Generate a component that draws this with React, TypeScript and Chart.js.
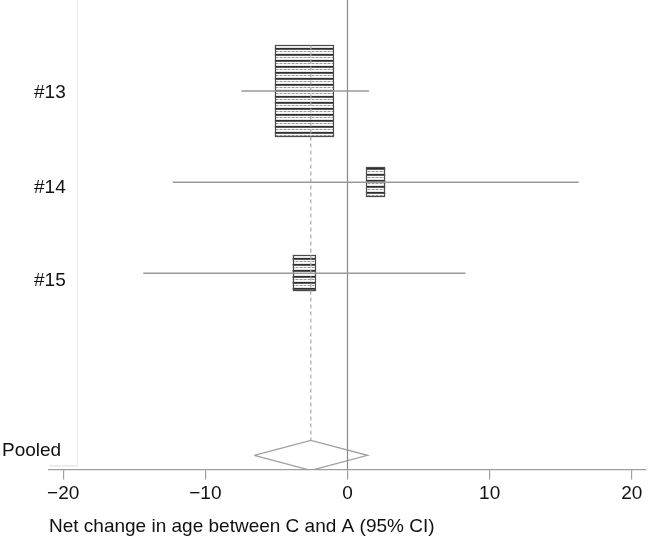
import React, { useEffect, useRef } from 'react';
import { Chart, registerables } from 'chart.js';

Chart.register(...registerables);

// ---- data ----
const studyLabels = ['#13', '#14', '#15'];
const studyRows = [1, 2, 3];
const estimates = [-3.04, 1.98, -3.05];
const lowerCI = [-7.46, -12.29, -14.37];
const upperCI = [1.52, 16.27, 8.3];
const weights = [79.4, 8.4, 12.2];

const pooledLabel = 'Pooled';
const pooledRow = 5;
const pooledEstimate = -2.58;
const pooledLower = -6.56;
const pooledUpper = 1.41;

const xTicks = [-20, -10, 0, 10, 20];
const xTitle = 'Net change in age between C and A (95% CI)';

// ---- style ----
const FONT = '"Liberation Sans", Arial, Helvetica, sans-serif';
const X_MIN = -21;
const X_MAX = 21;
const Y_MIN = 0;
const Y_MAX = 5.154;
const DIAMOND_HALF = 0.165;
const BOX_SCALE = 10.32; // px per sqrt(weight) for box height
const BOX_ASPECT = 0.64; // width / height
const labelOffsets = [2, 6, 8, -5];

function fmtTick(v: number): string {
  return v < 0 ? '\u2212' + Math.abs(v) : String(v);
}

function makePattern(ctx: CanvasRenderingContext2D): CanvasPattern | string {
  const c = document.createElement('canvas');
  c.width = 4;
  c.height = 6;
  const p = c.getContext('2d');
  if (!p) return '#888';
  p.fillStyle = '#ffffff';
  p.fillRect(0, 0, 4, 6);
  p.fillStyle = '#2e2e2e';
  p.fillRect(0, 0, 4, 1);
  p.fillStyle = '#5c5c5c';
  p.fillRect(0, 1, 4, 1);
  p.fillStyle = '#9a9a9a';
  p.fillRect(0, 3, 2, 1);
  p.fillStyle = '#cfcfcf';
  p.fillRect(2, 3, 2, 1);
  p.fillStyle = '#e6e6e6';
  p.fillRect(0, 5, 4, 1);
  return ctx.createPattern(c, 'repeat') || '#888';
}

const boxPlugin = {
  id: 'forestBoxes',
  beforeDraw(chart: any) {
    const { ctx } = chart;
    const ys = chart.scales.y;
    const xs = chart.scales.x;
    // faint frame line of the label region
    ctx.save();
    ctx.strokeStyle = '#ededed';
    ctx.lineWidth = 1;
    ctx.beginPath();
    ctx.moveTo(77.5, ys.top);
    ctx.lineTo(77.5, ys.bottom - 3);
    ctx.stroke();
    ctx.strokeStyle = '#dcdcdc';
    ctx.beginPath();
    ctx.moveTo(xs.left, ys.bottom - 3.5);
    ctx.lineTo(77.5, ys.bottom - 3.5);
    ctx.stroke();
    ctx.restore();
  },
  beforeDatasetsDraw(chart: any) {
    const { ctx } = chart;
    const xs = chart.scales.x;
    const ys = chart.scales.y;
    const pattern = makePattern(ctx);
    ctx.save();
    estimates.forEach((est, i) => {
      const cx = xs.getPixelForValue(est);
      const cy = ys.getPixelForValue(studyRows[i]);
      const h = BOX_SCALE * Math.sqrt(weights[i]);
      const w = h * BOX_ASPECT;
      ctx.fillStyle = pattern as any;
      ctx.fillRect(cx - w / 2, cy - h / 2, w, h);
      ctx.strokeStyle = '#4a4a4a';
      ctx.lineWidth = 1.2;
      ctx.strokeRect(Math.round(cx - w / 2) + 0.5, Math.round(cy - h / 2) + 0.5, Math.round(w) - 1, Math.round(h) - 1);
    });
    ctx.restore();
  },
  afterDraw(chart: any) {
    const { ctx } = chart;
    const ys = chart.scales.y;
    ctx.save();
    ctx.font = '19px ' + FONT;
    ctx.fillStyle = '#111111';
    ctx.textBaseline = 'middle';
    ctx.textAlign = 'left';
    studyLabels.forEach((lab, i) => {
      ctx.fillText(lab, 34, ys.getPixelForValue(studyRows[i]) + labelOffsets[i]);
    });
    ctx.fillText(pooledLabel, 2, ys.getPixelForValue(pooledRow) + labelOffsets[3]);
    ctx.restore();
  },
};

export default function App() {
  const ref = useRef<HTMLCanvasElement | null>(null);

  useEffect(() => {
    if (!ref.current) return;
    const lineGray = '#9a9a9a';
    const datasets: any[] = [];

    studyLabels.forEach((lab, i) => {
      datasets.push({
        label: lab + ' CI',
        data: [
          { x: lowerCI[i], y: studyRows[i] },
          { x: upperCI[i], y: studyRows[i] },
        ],
        showLine: true,
        borderColor: lineGray,
        borderWidth: 1.5,
        pointRadius: 0,
      });
    });

    datasets.push({
      label: 'zero',
      data: [
        { x: 0, y: Y_MIN },
        { x: 0, y: Y_MAX },
      ],
      showLine: true,
      borderColor: '#8e8e8e',
      borderWidth: 1.3,
      pointRadius: 0,
    });

    datasets.push({
      label: 'pooled line',
      data: [
        { x: pooledEstimate, y: 0.5 },
        { x: pooledEstimate, y: pooledRow - DIAMOND_HALF },
      ],
      showLine: true,
      borderColor: '#a8a8a8',
      borderWidth: 1.2,
      borderDash: [4, 3],
      pointRadius: 0,
    });

    datasets.push({
      label: 'pooled diamond',
      data: [
        { x: pooledLower, y: pooledRow },
        { x: pooledEstimate, y: pooledRow - DIAMOND_HALF },
        { x: pooledUpper, y: pooledRow },
        { x: pooledEstimate, y: pooledRow + DIAMOND_HALF },
        { x: pooledLower, y: pooledRow },
      ],
      showLine: true,
      borderColor: '#a0a0a0',
      borderWidth: 1.3,
      pointRadius: 0,
      fill: false,
      tension: 0,
    });

    const chart = new Chart(ref.current, {
      type: 'scatter',
      data: { datasets },
      options: {
        animation: false,
        responsive: false,
        maintainAspectRatio: false,
        layout: { padding: { left: 49, right: 4, top: 0, bottom: 0 } },
        plugins: {
          legend: { display: false },
          tooltip: { enabled: false },
          title: { display: false },
        },
        scales: {
          x: {
            type: 'linear',
            min: X_MIN,
            max: X_MAX,
            afterBuildTicks: (s: any) => {
              s.ticks = xTicks.map((v) => ({ value: v }));
            },
            grid: {
              drawOnChartArea: false,
              drawTicks: true,
              tickLength: 10,
              color: '#9e9e9e',
              lineWidth: 1.2,
            },
            border: { display: true, color: '#9e9e9e', width: 1.2 },
            ticks: {
              font: { family: FONT, size: 19 },
              color: '#111111',
              padding: 3,
              maxRotation: 0,
              autoSkip: false,
              callback: (v: any) => fmtTick(Number(v)),
            },
            title: {
              display: true,
              text: xTitle,
              align: 'start',
              font: { family: FONT, size: 19 },
              color: '#111111',
              padding: { top: 7, bottom: 0 },
            },
          },
          y: {
            type: 'linear',
            display: false,
            min: Y_MIN,
            max: Y_MAX,
            reverse: true,
          },
        },
      } as any,
      plugins: [boxPlugin],
    });

    return () => chart.destroy();
  }, []);

  return (
    <div style={{ position: 'absolute', left: 0, top: 0, width: 650, height: 538, background: '#ffffff' }}>
      <canvas ref={ref} width={650} height={538} style={{ display: 'block', width: 650, height: 538 }} />
    </div>
  );
}
